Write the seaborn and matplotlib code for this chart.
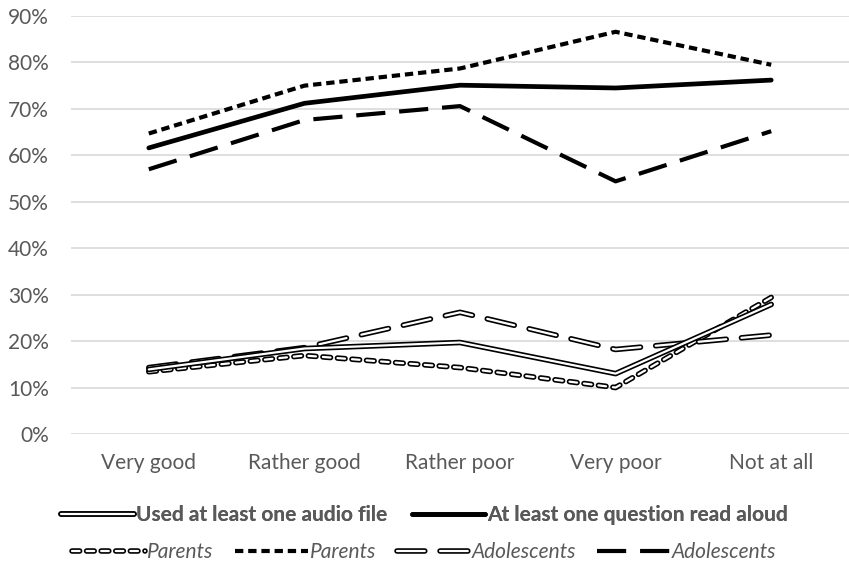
import matplotlib
matplotlib.use("Agg")
import matplotlib.pyplot as plt
import matplotlib.patheffects as pe
from matplotlib.lines import Line2D
from matplotlib.ticker import PercentFormatter
import seaborn as sns
import pandas as pd

categories = ["Very good", "Rather good", "Rather poor", "Very poor", "Not at all"]

# used at least one audio file (%)
audio_all = [13.9, 18.4, 19.7, 13.0, 27.9]
audio_parents = [13.4, 16.9, 14.3, 10.0, 29.4]
audio_adolescents = [14.3, 18.6, 26.2, 18.2, 21.3]

# at least one question read aloud (%)
aloud_all = [61.6, 71.2, 75.1, 74.5, 76.2]
aloud_parents = [64.7, 75.0, 78.7, 86.6, 79.5]
aloud_adolescents = [57.0, 67.6, 70.6, 54.4, 65.2]

legend_row1 = ["Used at least one audio file", "At least one question read aloud"]
legend_row2 = ["Parents", "Parents", "Adolescents", "Adolescents"]

sns.set_theme(style="white")
plt.rcParams["font.family"] = ["Lato", "DejaVu Sans"]
plt.rcParams["lines.scale_dashes"] = False

TXT = "#595959"
FS = 15
outline = [pe.Stroke(linewidth=4.0, foreground="black"), pe.Normal()]

# (values, style kwargs)
series = [
    (aloud_parents, dict(color="black", lw=3.0, dashes=(6, 3.5))),
    (aloud_adolescents, dict(color="black", lw=3.0, dashes=(21, 10))),
    (aloud_all, dict(color="black", lw=3.4)),
    (audio_parents, dict(color="white", lw=1.6, dashes=(5.5, 5), path_effects=outline,
                         dash_capstyle="round")),
    (audio_adolescents, dict(color="white", lw=1.6, dashes=(20, 11), path_effects=outline,
                             dash_capstyle="round")),
    (audio_all, dict(color="white", lw=1.6, path_effects=outline)),
]

fig = plt.figure(figsize=(8.49, 5.68), dpi=100)
ax = fig.add_axes([71 / 849, 1 - 434 / 568, 778 / 849, 418 / 568])

for vals, kw in series:
    df = pd.DataFrame({"cat": categories, "val": vals})
    sns.lineplot(data=df, x="cat", y="val", ax=ax, sort=False, **kw)

ax.set_xlim(-0.5, 4.5)
ax.set_ylim(0, 90)
ax.set_yticks(range(0, 91, 10))
ax.yaxis.set_major_formatter(PercentFormatter(decimals=0))
ax.grid(axis="y", color="#d9d9d9", lw=1.2)
ax.set_axisbelow(True)
for s in ax.spines.values():
    s.set_visible(False)
ax.set_xlabel("")
ax.set_ylabel("")
ax.tick_params(axis="both", length=0, labelsize=FS, labelcolor=TXT)
ax.tick_params(axis="y", pad=16)
ax.tick_params(axis="x", pad=14)

# legend handles
h1 = [
    Line2D([], [], color="white", lw=1.6, path_effects=outline),
    Line2D([], [], color="black", lw=3.4),
]
h2 = [
    Line2D([], [], color="white", lw=1.6, dashes=(5.5, 5), path_effects=outline, dash_capstyle="round"),
    Line2D([], [], color="black", lw=3.0, dashes=(6, 3.5)),
    Line2D([], [], color="white", lw=1.6, dashes=(20, 11), path_effects=outline, dash_capstyle="round"),
    Line2D([], [], color="black", lw=3.0, dashes=(21, 10)),
]

leg1 = fig.legend(h1, legend_row1, loc="center", bbox_to_anchor=(0.5, 1 - 515 / 568),
                  ncol=2, frameon=False, handlelength=3.5,
                  handletextpad=0.1, columnspacing=1.2,
                  prop={"weight": "bold", "size": FS})
for t in leg1.get_texts():
    t.set_color(TXT)
leg2 = fig.legend(h2, legend_row2, loc="center", bbox_to_anchor=(0.5, 1 - 552 / 568),
                  ncol=4, frameon=False, handlelength=3.5,
                  handletextpad=0.1, columnspacing=1.0,
                  prop={"style": "italic", "size": FS})
for t in leg2.get_texts():
    t.set_color(TXT)
fig.add_artist(leg1)

fig.savefig("out.png", dpi=100)
